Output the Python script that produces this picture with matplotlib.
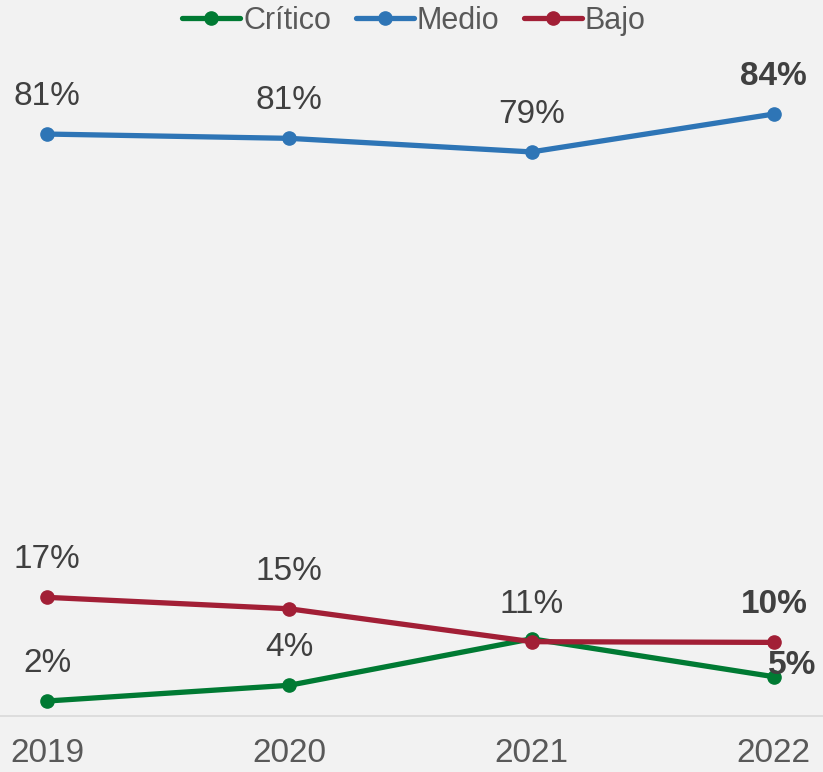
import numpy as np
import matplotlib
matplotlib.use('Agg')
import matplotlib.pyplot as plt

plt.rcParams['font.family'] = ['Liberation Sans Narrow', 'Liberation Sans', 'DejaVu Sans']

## data
years = ['2019', '2020', '2021', '2022']
critico = [2.1, 4.3, 10.8, 5.5]
medio = [81.4, 80.8, 78.9, 84.2]
bajo = [16.6, 15.0, 10.4, 10.3]

critico_lbl = ['2%', '4%', '11%', '5%']
medio_lbl = ['81%', '81%', '79%', '84%']
bajo_lbl = ['17%', '15%', '11%', '10%']

bg = '#f2f2f2'
txt = '#404040'

fig = plt.figure(figsize=(8.23, 7.72), dpi=100, facecolor=bg)
ax = fig.add_axes([0, 0.0725, 1, 0.8335])
ax.set_facecolor(bg)

x = np.arange(len(years))
series = [
    ('Crítico', critico, critico_lbl, '#007a33'),
    ('Medio', medio, medio_lbl, '#2e75b6'),
    ('Bajo', bajo, bajo_lbl, '#a21f36'),
]
for name, vals, lbls, col in series:
    ax.plot(x, vals, '-o', color=col, linewidth=3.8, markersize=9.5, label=name,
            solid_capstyle='round')

## data labels
for name, vals, lbls, col in series:
    for i, (v, s) in enumerate(zip(vals, lbls)):
        if name == 'Crítico' and i == 2:
            continue
        bold = (i == 3)
        dx, dy = 0, 27
        if name == 'Crítico' and i == 3:
            dx, dy = 13, 8
        ax.annotate(s, (x[i], v), xytext=(dx, dy), textcoords='offset points',
                    ha='center', va='center', fontsize=24, color=txt,
                    fontweight='bold' if bold else 'normal')

ax.set_xlim(-0.194, 3.203)
ax.set_ylim(0, 90)
ax.set_xticks(x)
ax.set_xticklabels(years, fontsize=24, color='#595959')
ax.tick_params(axis='x', length=0, pad=16)
ax.set_yticks([])
for s in ['top', 'left', 'right']:
    ax.spines[s].set_visible(False)
ax.spines['bottom'].set_color('#d9d9d9')
ax.spines['bottom'].set_linewidth(1.2)

leg = fig.legend(loc='upper center', bbox_to_anchor=(0.503, 1.028), ncol=3,
                 frameon=False, fontsize=22, handlelength=1.9, columnspacing=0.8,
                 handletextpad=0.1)
for t in leg.get_texts():
    t.set_color('#595959')

plt.savefig('out.png', dpi=100, facecolor=bg)
